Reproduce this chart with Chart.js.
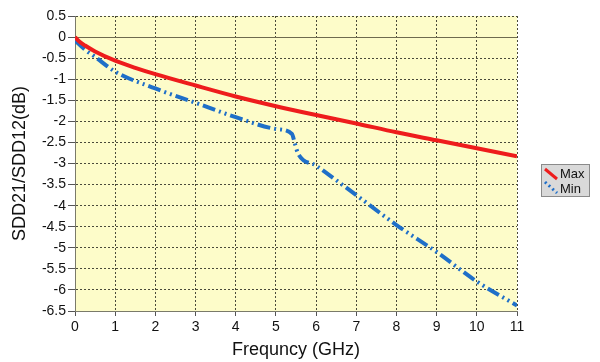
<!DOCTYPE html>
<html>
<head>
<meta charset="utf-8">
<script src="https://cdn.jsdelivr.net/npm/chart.js@4/dist/chart.umd.min.js"></script>
<style>
html,body{margin:0;padding:0;background:#fff;}
#wrap{width:600px;height:362px;position:relative;}
</style>
</head>
<body>
<div id="wrap"><canvas id="c" width="600" height="362"></canvas></div>
<script>
// ---- data ----
const maxFreq = [0, 0.1, 0.25, 0.5, 1, 1.5, 2, 3, 4, 5, 6, 7, 8, 9, 10, 11];
const maxLoss = [0, -0.1, -0.2, -0.34, -0.56, -0.73, -0.88, -1.15, -1.41, -1.64, -1.85, -2.05, -2.26, -2.45, -2.64, -2.83];

const minFreq = [0, 0.25, 0.5, 1, 2, 3, 4, 5, 5.4, 5.47, 5.55, 6, 7, 8, 9, 10, 11];
const minLoss = [-0.08, -0.3, -0.47, -0.82, -1.22, -1.56, -1.9, -2.18, -2.3, -2.52, -2.76, -3.05, -3.75, -4.46, -5.1, -5.8, -6.37];

const seriesNames = ['Max', 'Min'];
const xTicks = [0, 1, 2, 3, 4, 5, 6, 7, 8, 9, 10, 11];
const yTicks = [0.5, 0, -0.5, -1, -1.5, -2, -2.5, -3, -3.5, -4, -4.5, -5, -5.5, -6, -6.5];
const xTitle = 'Frequncy (GHz)';
const yTitle = 'SDD21/SDD12(dB)';

const RED = '#ee1c1c';
const BLUE = '#1f6fc8';
const FONT = "'Liberation Sans', Arial, Helvetica, sans-serif";

const toPts = (xs, ys) => xs.map((x, i) => ({x: x, y: ys[i]}));

const bgPlugin = {
  id: 'bg',
  beforeDraw(chart) {
    const {ctx, chartArea: a} = chart;
    ctx.save();
    ctx.fillStyle = '#fdfcc9';
    ctx.fillRect(a.left, a.top, a.right - a.left, a.bottom - a.top);
    ctx.restore();
  },
  beforeDatasetsDraw(chart) {
    const {ctx, chartArea: a, scales} = chart;
    const y0 = Math.round(scales.y.getPixelForValue(0)) + 0.5;
    ctx.save();
    ctx.strokeStyle = '#6e6a4e';
    ctx.lineWidth = 1.2;
    ctx.setLineDash([]);
    ctx.beginPath();
    ctx.moveTo(a.left, y0);
    ctx.lineTo(a.right, y0);
    ctx.stroke();
    ctx.restore();
  }
};

const legendPlugin = {
  id: 'boxLegend',
  afterDraw(chart) {
    const ctx = chart.ctx;
    const x = 541, y = 164, w = 48, h = 32;
    ctx.save();
    ctx.fillStyle = '#d9d9d9';
    ctx.fillRect(x, y, w, h);
    ctx.strokeStyle = '#8a8a8a';
    ctx.lineWidth = 1;
    ctx.strokeRect(x + 0.5, y + 0.5, w, h);
    // Max entry
    ctx.strokeStyle = RED;
    ctx.lineWidth = 3;
    ctx.beginPath();
    ctx.moveTo(545, 169);
    ctx.lineTo(557, 179);
    ctx.stroke();
    // Min entry
    ctx.strokeStyle = BLUE;
    ctx.setLineDash([2, 3]);
    ctx.beginPath();
    ctx.moveTo(545, 182);
    ctx.lineTo(557, 193);
    ctx.stroke();
    ctx.setLineDash([]);
    ctx.fillStyle = '#111';
    ctx.font = '13px ' + FONT;
    ctx.textBaseline = 'middle';
    ctx.textAlign = 'left';
    ctx.fillText(seriesNames[0], 560, 174);
    ctx.fillText(seriesNames[1], 560, 189);
    ctx.restore();
  }
};

new Chart(document.getElementById('c'), {
  type: 'line',
  data: {
    datasets: [
      {
        label: seriesNames[0],
        data: toPts(maxFreq, maxLoss),
        borderColor: RED,
        borderWidth: 4,
        pointRadius: 0,
        cubicInterpolationMode: 'monotone',
        fill: false
      },
      {
        label: seriesNames[1],
        data: toPts(minFreq, minLoss),
        borderColor: BLUE,
        borderWidth: 4,
        borderDash: [13, 4, 2, 4, 2, 4],
        borderCapStyle: 'butt',
        pointRadius: 0,
        cubicInterpolationMode: 'monotone',
        fill: false
      }
    ]
  },
  plugins: [bgPlugin, legendPlugin],
  options: {
    responsive: false,
    animation: false,
    events: [],
    layout: {padding: {top: 16, right: 83, bottom: 0, left: 0}},
    plugins: {legend: {display: false}, tooltip: {enabled: false}},
    scales: {
      x: {
        type: 'linear',
        min: 0, max: 11,
        afterBuildTicks(scale) { scale.ticks = xTicks.map(v => ({value: v})); },
        afterFit(scale) { scale.height = 51; },
        ticks: {color: '#111', font: {family: FONT, size: 14}, padding: 3, maxRotation: 0,
          callback: v => String(v)},
        grid: {color: '#4a4a3a', lineWidth: 1, tickLength: 5, drawTicks: true,
          tickColor: '#555', tickBorderDash: []},
        border: {display: true, color: '#7a7a6a', width: 1, dash: [2, 2]},
        title: {display: true, text: xTitle, color: '#111', font: {family: FONT, size: 18},
          padding: {top: 1, bottom: 1}}
      },
      y: {
        type: 'linear',
        min: -6.5, max: 0.5,
        afterBuildTicks(scale) { scale.ticks = yTicks.map(v => ({value: v})); },
        afterFit(scale) { scale.width = 75; },
        ticks: {color: '#111', font: {family: FONT, size: 14}, padding: 2,
          callback: v => String(v)},
        grid: {color: '#4a4a3a', lineWidth: 1, tickLength: 7, drawTicks: true,
          tickColor: '#555', tickBorderDash: []},
        border: {display: true, color: '#7a7a6a', width: 1, dash: [2, 2]},
        title: {display: true, text: yTitle, color: '#111', font: {family: FONT, size: 18},
          padding: {top: 9, bottom: 0}}
      }
    }
  }
});
</script>
</body>
</html>
